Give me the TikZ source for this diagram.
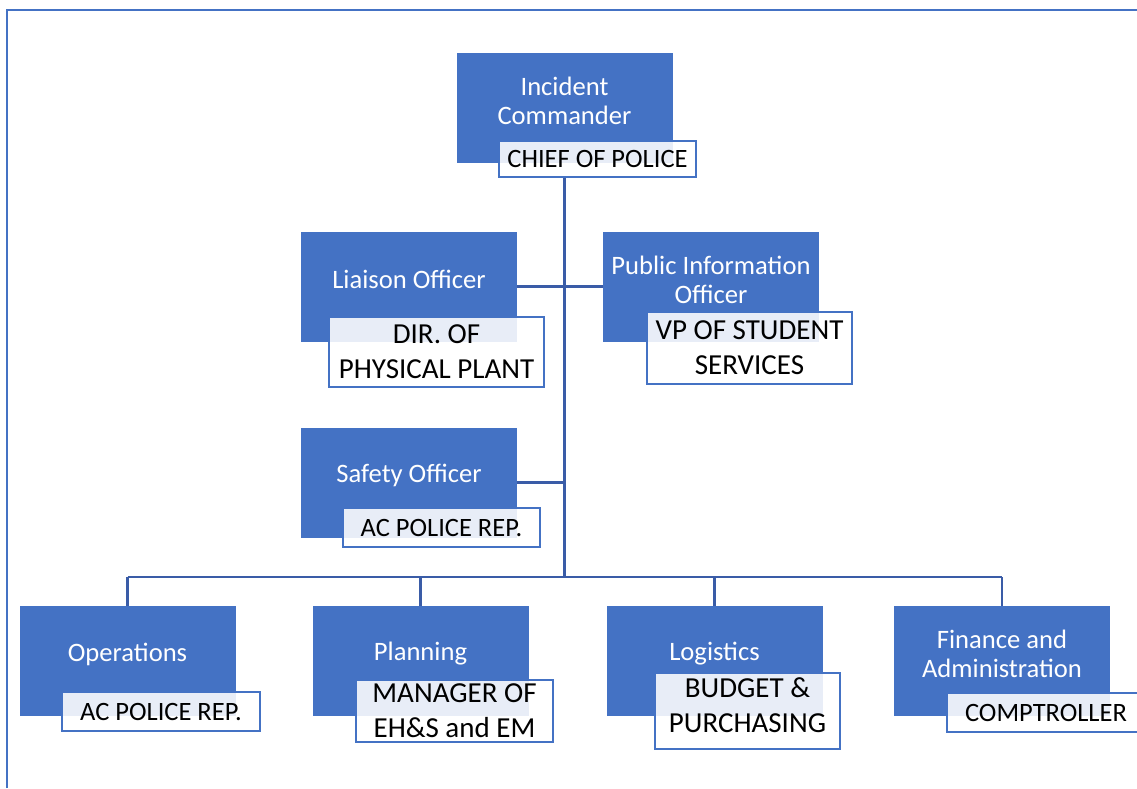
\documentclass[tikz,border=0pt]{standalone}
\usepackage{fontspec}
\setmainfont{Carlito}
\definecolor{boxblue}{HTML}{4472C4}
\definecolor{lineblue}{RGB}{58,92,167}
\tikzstyle{role}=[rectangle,fill=boxblue,minimum width=216pt,minimum height=110pt,inner sep=0pt]
\tikzstyle{roletext}=[text=white,align=center,font=\fontsize{26.6}{29}\selectfont,yshift=7pt]
\tikzstyle{namebox}=[rectangle,draw=boxblue,line width=1.5pt,fill=white,fill opacity=0.88,text opacity=1,
  align=center,inner sep=0pt,font=\fontsize{29}{35}\selectfont]
\tikzstyle{shortname}=[namebox,font=\fontsize{26.5}{32}\selectfont]
\tikzstyle{link}=[draw=lineblue,line width=2.5pt]

\begin{document}
\begin{tikzpicture}[x=1pt,y=-1pt]
  \useasboundingbox (0,0) rectangle (1137,788);
  \draw[boxblue,line width=2pt] (7,788) -- (7,10) -- (1137,10);

  % command staff
  \node[role,label={[roletext]center:Incident\\Commander}] (ic) at (564.5,108) {};
  \node[shortname,minimum width=197pt,minimum height=36pt] (ic-n) at (597.5,159) {CHIEF OF POLICE};

  \node[role,label={[roletext]center:Liaison Officer}] (liaison) at (409,286.5) {};
  \node[namebox,minimum width=215pt,minimum height=70pt] (liaison-n) at (436.5,352) {DIR. OF\\PHYSICAL PLANT};

  \node[role,label={[roletext]center:Public Information\\Officer}] (pio) at (711,286.5) {};
  \node[namebox,minimum width=205pt,minimum height=72pt] (pio-n) at (749.5,348) {VP OF STUDENT\\SERVICES};

  \node[role,label={[roletext]center:Safety Officer}] (safety) at (409,482.5) {};
  \node[shortname,minimum width=197pt,minimum height=39pt] (safety-n) at (441.5,527.5) {AC POLICE REP.};

  % general staff
  \node[role,label={[roletext]center:Operations}] (ops) at (127.5,661) {};
  \node[shortname,minimum width=198pt,minimum height=39pt] (ops-n) at (161,711.5) {AC POLICE REP.};

  \node[role,label={[roletext]center:Planning}] (plan) at (420.5,661) {};
  \node[namebox,minimum width=197pt,minimum height=62pt] (plan-n) at (454.5,711) {MANAGER OF\\EH\&S and EM};

  \node[role,label={[roletext]center:Logistics}] (logi) at (714.5,661) {};
  \node[namebox,minimum width=185pt,minimum height=76pt,text depth=12pt] (logi-n) at (747.5,711) {BUDGET \&\\PURCHASING};

  \node[role,label={[roletext]center:Finance and\\Administration}] (fin) at (1002,661) {};
  \node[shortname,minimum width=198pt,minimum height=39pt] (fin-n) at (1046,712.5) {COMPTROLLER};

  % connectors
  \coordinate (hub) at (564.5,577);
  \draw[link] (ic-n.south -| ic) -- (hub);
  \draw[link] (liaison.east) -- (pio.west);
  \draw[link] (safety.east) -- (safety.east -| hub);
  \draw[link] (ops.north |- hub) -- (fin.north |- hub);
  \foreach \n in {ops,plan,logi,fin}
    \draw[link] (\n.north |- hub) -- (\n.north);
\end{tikzpicture}
\end{document}
